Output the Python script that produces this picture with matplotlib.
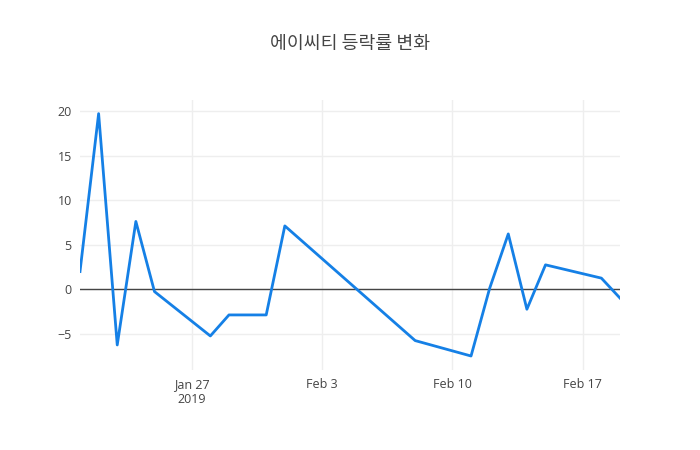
import numpy as np
import pandas as pd
import matplotlib
matplotlib.use('Agg')
import matplotlib.pyplot as plt
import matplotlib.dates as mdates

plt.rcParams['font.family'] = ['Open Sans', 'Noto Sans CJK KR', 'DejaVu Sans']

# daily change rate (%)
dates = pd.to_datetime(['2019-01-21', '2019-01-22', '2019-01-23', '2019-01-24', '2019-01-25',
                        '2019-01-28', '2019-01-29', '2019-01-31', '2019-02-01', '2019-02-08',
                        '2019-02-11', '2019-02-12', '2019-02-13', '2019-02-14', '2019-02-15',
                        '2019-02-18', '2019-02-19'])
rates = [1.98, 19.7, -6.26, 7.6, -0.27,
         -5.25, -2.89, -2.89, 7.1, -5.77,
         -7.5, 0.1, 6.2, -2.25, 2.73,
         1.24, -1.0]
title = '에이씨티 등락률 변화'
tick_dates = pd.to_datetime(['2019-01-27', '2019-02-03', '2019-02-10', '2019-02-17'])
tick_labels = ['Jan 27\n2019', 'Feb 3', 'Feb 10', 'Feb 17']
y_ticks = [-5, 0, 5, 10, 15, 20]

fig = plt.figure(figsize=(7, 4.5), dpi=100)
ax = fig.add_axes([80 / 700, 80 / 450, 540 / 700, 270 / 450])

ax.plot(dates, rates, color='#1580e6', lw=2, zorder=3)
ax.axhline(0, color='#444444', lw=1, zorder=2)

ax.set_xlim(dates[0], dates[-1])
ax.set_ylim(-9.07, 21.23)
ax.set_xticks(tick_dates)
ax.set_xticklabels(tick_labels)
ax.set_yticks(y_ticks)
ax.grid(True, color='#eeeeee', lw=1, zorder=0)
ax.tick_params(length=0, colors='#444444', labelsize=9, pad=6)
for s in ax.spines.values():
    s.set_visible(False)

fig.text(350 / 700, 1 - 44 / 450, title, ha='center', va='center',
         fontsize=13.2, color='#444444', family=['Noto Sans CJK KR', 'DejaVu Sans'])

fig.savefig('out.png', dpi=100)
